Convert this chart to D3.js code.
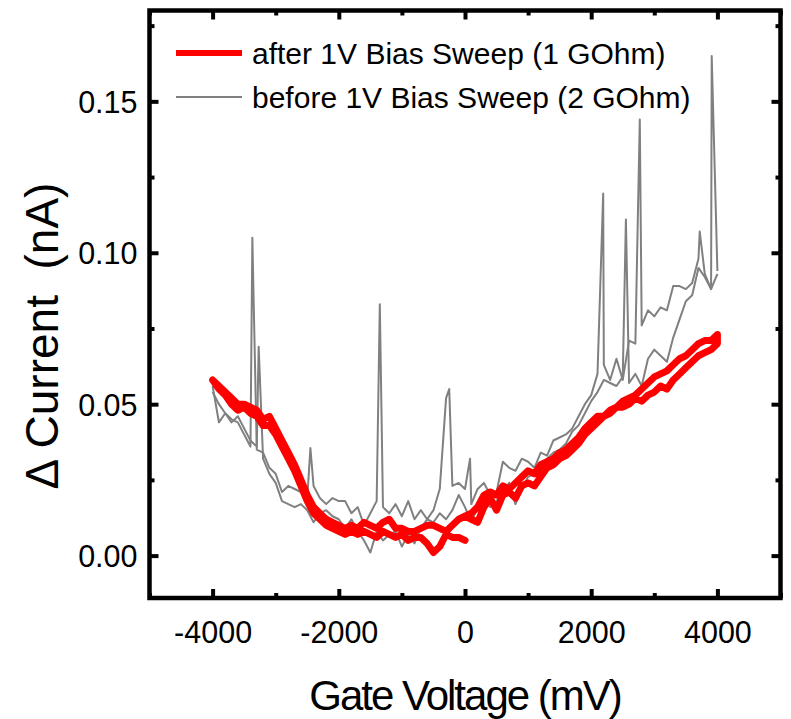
<!DOCTYPE html>
<html>
<head>
<meta charset="utf-8">
<script src="https://cdn.jsdelivr.net/npm/d3@7"></script>
<style>
body { margin: 0; background: #fff; }
text { font-family: "Liberation Sans", Arial, sans-serif; fill: #000; }
</style>
</head>
<body>
<script>
// gate sweeps in 100 mV steps, current in nA
// after bias sweep: 0 -> 4000 -> -4000 -> 0
var redUp = [0.013, 0.012, 0.011, 0.016, 0.019, 0.015, 0.020, 0.021, 0.019, 0.023,
  0.024, 0.023, 0.026, 0.029, 0.030, 0.032, 0.033, 0.035, 0.037, 0.040,
  0.042, 0.044, 0.046, 0.047, 0.049, 0.049, 0.050, 0.052, 0.051, 0.053,
  0.054, 0.056, 0.055, 0.058, 0.060, 0.062, 0.064, 0.066, 0.067, 0.068,
  0.070];
var redDown = [0.073, 0.071, 0.071, 0.070, 0.068, 0.066, 0.065, 0.063, 0.061, 0.060,
  0.059, 0.057, 0.055, 0.053, 0.052, 0.051, 0.049, 0.048, 0.046, 0.046,
  0.044, 0.042, 0.039, 0.037, 0.035, 0.034, 0.032, 0.031, 0.030, 0.027,
  0.028, 0.026, 0.024, 0.022, 0.023, 0.020, 0.021, 0.020, 0.016, 0.014,
  0.013,
  0.012, 0.010, 0.008, 0.009, 0.010, 0.010, 0.009, 0.008, 0.008, 0.009,
  0.009, 0.012, 0.011, 0.009, 0.010, 0.011, 0.009, 0.010, 0.009, 0.010,
  0.011, 0.012, 0.014, 0.016, 0.020, 0.025, 0.030, 0.034, 0.038, 0.042,
  0.046, 0.045, 0.048, 0.049, 0.050, 0.050, 0.052, 0.054, 0.056, 0.058];
var redBack = [0.055, 0.053, 0.050, 0.048, 0.049, 0.047, 0.046, 0.043, 0.043, 0.040,
  0.036, 0.032, 0.028, 0.023, 0.018, 0.014, 0.012, 0.010, 0.009, 0.008,
  0.007, 0.008, 0.007, 0.008, 0.007, 0.006, 0.008, 0.007, 0.006, 0.007,
  0.005, 0.006, 0.006, 0.004, 0.001, 0.003, 0.007, 0.006, 0.006, 0.005];

// before bias sweep: two passes -4000 -> 4000
var grayA = [0.056, 0.044, 0.047, 0.045, 0.044, 0.040, 0.036, 0.035, 0.034, 0.029,
  0.027, 0.021, 0.023, 0.022, 0.021, 0.019, 0.023, 0.019, 0.017, 0.019,
  0.018, 0.018, 0.014, 0.016, 0.010, 0.014, 0.018, 0.016, 0.014, 0.017,
  0.013, 0.018, 0.012, 0.015, 0.012, 0.015, 0.022, 0.052, 0.023, 0.024,
  0.022, 0.017, 0.022, 0.024, 0.020, 0.021, 0.031, 0.029, 0.028, 0.032,
  0.031, 0.029, 0.034, 0.033, 0.038, 0.039, 0.040, 0.042, 0.046, 0.050,
  0.053, 0.060, 0.063, 0.058, 0.065, 0.058, 0.071, 0.070, 0.076, 0.081,
  0.079, 0.082, 0.081, 0.089, 0.089, 0.088, 0.090, 0.098, 0.093, 0.088,
  0.094];
var grayB = [0.054, 0.050, 0.047, 0.044, 0.046, 0.042, 0.038, 0.036, 0.032, 0.027,
  0.024, 0.018, 0.017, 0.016, 0.017, 0.015, 0.011, 0.014, 0.015, 0.013,
  0.012, 0.009, 0.012, 0.008, 0.005, 0.001, 0.008, 0.005, 0.007, 0.008,
  0.003, 0.007, 0.004, 0.009, 0.012, 0.011, 0.014, 0.012, 0.015, 0.020,
  0.016, 0.011, 0.016, 0.018, 0.016, 0.018, 0.021, 0.024, 0.017, 0.022,
  0.026, 0.027, 0.030, 0.032, 0.034, 0.035, 0.037, 0.041, 0.043, 0.047,
  0.051, 0.054, 0.058, 0.057, 0.056, 0.059, 0.057, 0.060, 0.056, 0.065,
  0.068, 0.066, 0.064, 0.072, 0.078, 0.084, 0.086, 0.095, 0.092, 0.088,
  0.093];
// single-sample spikes [mV, nA]
var spikesA = [[-3370, 0.105], [-2450, 0.0355], [-1350, 0.083], [-250, 0.055], [80, 0.032],
  [2190, 0.1196], [2770, 0.144], [3720, 0.107], [3910, 0.165]];
var spikesB = [[-3270, 0.069], [2550, 0.111]];

var xTicks = [-4000, -2000, 0, 2000, 4000];
var xMinor = [-5000, -3000, -1000, 1000, 3000, 5000];
var yTicks = [0, 0.05, 0.10, 0.15];
var yMinor = [0.025, 0.075, 0.125, 0.175];
var legendLabels = ["after 1V Bias Sweep (1 GOhm)", "before 1V Bias Sweep (2 GOhm)"];

var width = 791, height = 719;
var plot = {left: 149.5, right: 780.5, top: 10.5, bottom: 598};

var svg = d3.select("body").append("svg")
    .attr("width", width)
    .attr("height", height);

var x = d3.scaleLinear().domain([-5000, 5000]).range([plot.left, plot.right]);
var y = d3.scaleLinear().domain([-0.014, 0.18]).range([plot.bottom, plot.top]);

function sweep(from, to, values) {
  var step = from < to ? 100 : -100;
  return values.map(function(v, k) { return [from + k * step, v]; });
}

var red = sweep(0, 4000, redUp)
  .concat(sweep(4000, -4000, redDown))
  .concat(sweep(-3900, 0, redBack));
var grays = [
  sweep(-4000, 4000, grayA).concat(spikesA).sort(function(a, b) { return a[0] - b[0]; }),
  sweep(-4000, 4000, grayB).concat(spikesB).sort(function(a, b) { return a[0] - b[0]; })
];

var line = d3.line()
    .x(function(d) { return x(d[0]); })
    .y(function(d) { return y(d[1]); });

svg.selectAll(".gray")
    .data(grays)
  .enter().append("path")
    .attr("class", "gray")
    .attr("d", line)
    .attr("fill", "none")
    .attr("stroke", "#808080")
    .attr("stroke-width", 2)
    .attr("stroke-linejoin", "round");

svg.append("path")
    .datum(red)
    .attr("d", line)
    .attr("fill", "none")
    .attr("stroke", "#ff0000")
    .attr("stroke-width", 7)
    .attr("stroke-linejoin", "round")
    .attr("stroke-linecap", "round");

// axes, ticks inward on all four sides
function ticks(axis, values, size, labels) {
  return axis.tickValues(values).tickSize(-size).tickSizeOuter(0)
    .tickFormat(labels ? labels : "");
}

var fmtX = function(d) { return String(d); };
var fmtY = d3.format(".2f");

var gx = svg.append("g").attr("transform", "translate(0," + plot.bottom + ")")
    .call(ticks(d3.axisBottom(x), xTicks, 9, fmtX).tickPadding(23));
svg.append("g").attr("transform", "translate(0," + plot.bottom + ")")
    .call(ticks(d3.axisBottom(x), xMinor, 5));
svg.append("g").attr("transform", "translate(0," + plot.top + ")")
    .call(ticks(d3.axisTop(x), xTicks, 9));
svg.append("g").attr("transform", "translate(0," + plot.top + ")")
    .call(ticks(d3.axisTop(x), xMinor, 5));
var gy = svg.append("g").attr("transform", "translate(" + plot.left + ",0)")
    .call(ticks(d3.axisLeft(y), yTicks, 9, fmtY).tickPadding(12));
svg.append("g").attr("transform", "translate(" + plot.left + ",0)")
    .call(ticks(d3.axisLeft(y), yMinor, 5));
svg.append("g").attr("transform", "translate(" + plot.right + ",0)")
    .call(ticks(d3.axisRight(y), yTicks, 9));
svg.append("g").attr("transform", "translate(" + plot.right + ",0)")
    .call(ticks(d3.axisRight(y), yMinor, 5));

svg.selectAll(".domain").remove();
svg.selectAll(".tick line").attr("stroke", "#000").attr("stroke-width", 4);
svg.selectAll(".tick text")
    .attr("fill", "#000")
    .style("font-family", "'Liberation Sans', Arial, sans-serif")
    .style("font-size", "30.5px");
gy.selectAll(".tick text").attr("dy", "0.36em");

svg.append("rect")
    .attr("x", plot.left)
    .attr("y", plot.top)
    .attr("width", plot.right - plot.left)
    .attr("height", plot.bottom - plot.top)
    .attr("fill", "none")
    .attr("stroke", "#000")
    .attr("stroke-width", 4.5);

// axis titles
svg.append("text")
    .attr("x", x(0))
    .attr("y", 710)
    .attr("text-anchor", "middle")
    .style("font-size", "42px")
    .style("letter-spacing", "-2px")
    .text("Gate Voltage (mV)");

svg.append("text")
    .attr("transform", "translate(58," + 336 + ") rotate(-90)")
    .attr("text-anchor", "middle")
    .style("font-size", "46px")
    .style("white-space", "pre")
    .text("\u0394 Current  (nA)");

// legend
var legend = svg.append("g");
var legendRows = legend.selectAll("g")
    .data(legendLabels)
  .enter().append("g")
    .attr("transform", function(d, i) { return "translate(0," + (53 + i * 44) + ")"; });
legendRows.append("line")
    .attr("x1", 176).attr("x2", 242)
    .attr("stroke", function(d, i) { return i === 0 ? "#ff0000" : "#808080"; })
    .attr("stroke-width", function(d, i) { return i === 0 ? 6 : 2; });
legendRows.append("text")
    .attr("x", 252)
    .attr("y", 11)
    .style("font-size", "30px")
    .text(function(d) { return d; });
</script>
</body>
</html>
